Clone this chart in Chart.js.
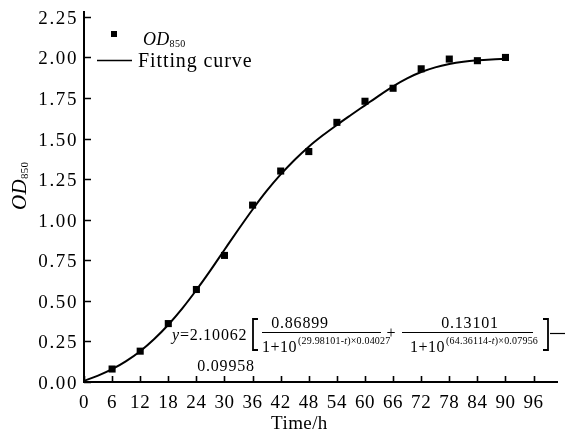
<!DOCTYPE html>
<html>
<head>
<meta charset="utf-8">
<script src="https://cdn.jsdelivr.net/npm/chart.js@4.4.1/dist/chart.umd.min.js"></script>
<style>
  html, body { margin: 0; padding: 0; background: #fff; }
  canvas { display: block; }
</style>
</head>
<body>
<canvas id="growth" width="565" height="434"></canvas>
<script>
// measured points (OD850 vs time)
const timeH = [6, 12, 18, 24, 30, 36, 42, 48, 54, 60, 66, 72, 78, 84, 90];
const od850 = [0.08, 0.19, 0.36, 0.57, 0.78, 1.09, 1.30, 1.42, 1.60, 1.73, 1.81, 1.93, 1.99, 1.98, 2.00];

// fitting curve, read every 3 h
const curveT = [0, 3, 6, 9, 12, 15, 18, 21, 24, 27, 30, 33, 36, 39, 42, 45,
                48, 51, 54, 57, 60, 63, 66, 69, 72, 75, 78, 81, 84, 87, 90];
const curveOD = [0.007, 0.039, 0.079, 0.129, 0.190, 0.265, 0.353, 0.454, 0.567, 0.688, 0.815,
                 0.941, 1.063, 1.177, 1.279, 1.370, 1.450, 1.520, 1.584, 1.645, 1.705, 1.765,
                 1.822, 1.871, 1.910, 1.939, 1.959, 1.973, 1.982, 1.988, 1.992];

// axis ticks
const xTicks = [0, 6, 12, 18, 24, 30, 36, 42, 48, 54, 60, 66, 72, 78, 84, 90, 96];
const yTicks = [0, 0.25, 0.5, 0.75, 1.0, 1.25, 1.5, 1.75, 2.0, 2.25];

const SERIF = '"Liberation Serif", "DejaVu Serif", serif';

// draw a row of text pieces with different fonts, left to right
function runs(ctx, parts, x, y, ls) {
    ctx.textAlign = 'left';
    ctx.textBaseline = 'alphabetic';
    ctx.letterSpacing = (ls || 0) + 'px';
    let cx = x;
    parts.forEach(p => {
        ctx.font = p.font;
        ctx.fillText(p.s, cx, y + (p.dy || 0));
        cx += ctx.measureText(p.s).width;
    });
    return cx;
}

function text(ctx, s, x, y, font, align, ls) {
    ctx.font = font;
    ctx.textAlign = align;
    ctx.textBaseline = 'alphabetic';
    ctx.letterSpacing = (ls || 0) + 'px';
    ctx.fillText(s, x, y);
}

const decor = {
    id: 'decor',
    afterDraw(chart) {
        const ctx = chart.ctx;
        const xs = chart.scales.x, ys = chart.scales.y;
        const x0 = xs.getPixelForValue(0), y0 = ys.getPixelForValue(0);
        ctx.save();
        ctx.fillStyle = '#000';
        ctx.strokeStyle = '#000';

        // inward tick marks
        ctx.lineWidth = 1.6;
        ctx.beginPath();
        xs.ticks.forEach(t => {
            const px = Math.round(xs.getPixelForValue(t.value)) + 0.5;
            ctx.moveTo(px, y0); ctx.lineTo(px, y0 - 6);
        });
        ys.ticks.forEach(t => {
            const py = Math.round(ys.getPixelForValue(t.value)) + 0.5;
            ctx.moveTo(x0, py); ctx.lineTo(x0 + 7, py);
        });
        ctx.stroke();

        // tick labels
        xs.ticks.forEach(t => {
            text(ctx, String(t.value), xs.getPixelForValue(t.value), 408, '19px ' + SERIF, 'center', 0.6);
        });
        ys.ticks.forEach(t => {
            text(ctx, t.value.toFixed(2), x0 - 6, ys.getPixelForValue(t.value) + 7, '19px ' + SERIF, 'right', 1.6);
        });

        // axis titles
        text(ctx, 'Time/h', xs.getPixelForValue(46), 429, '19px ' + SERIF, 'center', 0.4);
        ctx.save();
        ctx.translate(25.5, 210);
        ctx.rotate(-Math.PI / 2);
        runs(ctx, [
            { s: 'OD', font: 'italic 21px ' + SERIF },
            { s: '850', font: '11px ' + SERIF, dy: 2.5 }
        ], 0, 0, 0.3);
        ctx.restore();

        // legend
        ctx.fillRect(111, 31, 6, 6);
        runs(ctx, [
            { s: 'OD', font: 'italic 18px ' + SERIF },
            { s: '850', font: '10px ' + SERIF, dy: 2 }
        ], 143, 45, 0.3);
        ctx.lineWidth = 1.5;
        ctx.beginPath();
        ctx.moveTo(97, 60.5); ctx.lineTo(132, 60.5);
        ctx.stroke();
        text(ctx, 'Fitting curve', 138, 67, '20px ' + SERIF, 'left', 0.9);

        // fitted equation
        const F = '16px ' + SERIF, FS = '10px ' + SERIF;
        runs(ctx, [
            { s: 'y', font: 'italic 16px ' + SERIF },
            { s: '=2.10062', font: F }
        ], 172, 340, 0.8);

        ctx.lineWidth = 1.8;
        ctx.beginPath();
        ctx.moveTo(258, 319); ctx.lineTo(253, 319); ctx.lineTo(253, 350); ctx.lineTo(258, 350);
        ctx.moveTo(543, 319); ctx.lineTo(548, 319); ctx.lineTo(548, 350); ctx.lineTo(543, 350);
        ctx.stroke();

        ctx.lineWidth = 1;
        ctx.beginPath();
        ctx.moveTo(262, 332.5); ctx.lineTo(381, 332.5);
        ctx.moveTo(402, 332.5); ctx.lineTo(533, 332.5);
        ctx.stroke();
        ctx.lineWidth = 1.2;
        ctx.beginPath();
        ctx.moveTo(550, 333.5); ctx.lineTo(565, 333.5);
        ctx.stroke();

        text(ctx, '0.86899', 300, 328, F, 'center', 0.8);
        text(ctx, '0.13101', 470, 328, F, 'center', 0.8);
        text(ctx, '+', 391, 338, F, 'center', 0);

        let ex = runs(ctx, [{ s: '1+10', font: F }], 262, 352, 0.5);
        runs(ctx, [
            { s: '(29.98101-', font: FS },
            { s: 't', font: 'italic 10px ' + SERIF },
            { s: ')\u00d70.04027', font: FS }
        ], ex + 1, 344, 0.2);
        ex = runs(ctx, [{ s: '1+10', font: F }], 410, 352, 0.5);
        runs(ctx, [
            { s: '(64.36114-', font: FS },
            { s: 't', font: 'italic 10px ' + SERIF },
            { s: ')\u00d70.07956', font: FS }
        ], ex + 1, 344, 0.2);

        text(ctx, '0.09958', 226, 371, F, 'center', 0.8);
        ctx.restore();
    }
};

const pts = timeH.map((t, i) => ({ x: t, y: od850[i] }));
const fit = curveT.map((t, i) => ({ x: t, y: curveOD[i] }));

new Chart(document.getElementById('growth'), {
    type: 'scatter',
    data: {
        datasets: [{
            label: 'OD850',
            data: pts,
            pointStyle: 'rect',
            pointRadius: 5,
            pointHoverRadius: 5,
            backgroundColor: '#000',
            borderColor: '#000',
            borderWidth: 0
        }, {
            type: 'line',
            label: 'Fitting curve',
            data: fit,
            borderColor: '#000',
            borderWidth: 2,
            pointRadius: 0,
            fill: false,
            cubicInterpolationMode: 'monotone'
        }]
    },
    options: {
        responsive: false,
        animation: false,
        devicePixelRatio: 1,
        layout: { padding: { left: 84, right: 8, top: 12, bottom: 52 } },
        plugins: { legend: { display: false }, tooltip: { enabled: false } },
        scales: {
            x: {
                type: 'linear',
                min: 0,
                max: 101,
                afterBuildTicks: s => { s.ticks = xTicks.map(v => ({ value: v })); },
                ticks: { display: false },
                grid: { display: false, drawTicks: false },
                border: { display: true, color: '#000', width: 2 }
            },
            y: {
                type: 'linear',
                min: 0,
                max: 2.28,
                afterBuildTicks: s => { s.ticks = yTicks.map(v => ({ value: v })); },
                ticks: { display: false },
                grid: { display: false, drawTicks: false },
                border: { display: true, color: '#000', width: 2 }
            }
        }
    },
    plugins: [decor]
});
</script>
</body>
</html>
